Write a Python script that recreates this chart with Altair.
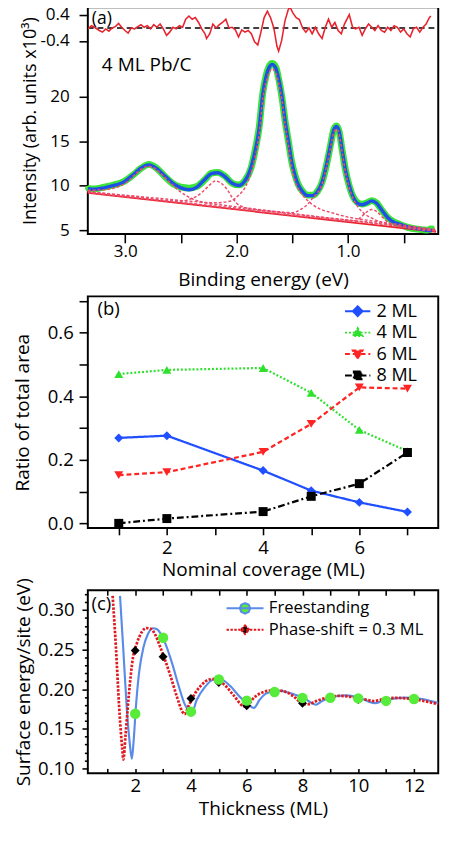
import altair as alt
import pandas as pd

FONT = "Open Sans"

# ---------------- panel (a): spectrum of 4 ML Pb/C ----------------
E_FIT = [3.336, 3.276, 3.190, 3.103, 3.017, 2.931, 2.859, 2.787, 2.716, 2.644,
         2.572, 2.500, 2.428, 2.356, 2.284, 2.227, 2.170, 2.112, 2.040, 1.983,
         1.925, 1.868, 1.832, 1.798, 1.765, 1.736, 1.707, 1.681, 1.649, 1.621,
         1.593, 1.564, 1.534, 1.506, 1.477, 1.448, 1.405, 1.362, 1.319, 1.276,
         1.233, 1.190, 1.155, 1.127, 1.103, 1.080, 1.052, 1.024, 0.989, 0.955,
         0.917, 0.874, 0.831, 0.788, 0.745, 0.701, 0.645, 0.587, 0.529, 0.463,
         0.377, 0.290, 0.245]
I_FIT = [9.67, 9.61, 9.78, 10.04, 10.39, 11.22, 12.00, 12.35, 11.92, 11.10,
         10.28, 9.78, 9.57, 9.86, 10.75, 11.36, 11.46, 11.10, 10.28, 10.04,
         10.57, 12.18, 14.00, 16.40, 20.30, 22.20, 23.30, 23.60, 23.20, 21.90,
         20.00, 17.20, 14.90, 12.70, 11.20, 10.15, 9.30, 8.90, 8.90, 9.30,
         10.39, 12.53, 14.68, 16.29, 16.64, 16.10, 13.96, 11.82, 10.04, 8.78,
         8.07, 7.89, 8.07, 8.32, 8.07, 7.36, 6.46, 5.92, 5.68, 5.39,
         5.21, 5.03, 5.00]
I_DATA = [9.72, 9.66, 9.85, 10.10, 10.45, 11.20, 11.95, 12.40, 11.95, 11.05,
          10.25, 9.85, 9.75, 9.95, 10.70, 11.40, 11.50, 11.15, 10.30, 10.10,
          10.60, 12.10, 14.10, 16.50, 20.40, 22.30, 23.40, 23.70, 23.30, 21.90,
          19.90, 17.20, 14.90, 12.75, 11.25, 10.20, 9.35, 8.95, 8.95, 9.35,
          10.40, 12.50, 14.70, 16.35, 16.70, 16.10, 13.95, 11.85, 10.00, 8.80,
          8.15, 7.95, 8.10, 8.35, 8.10, 7.35, 6.45, 5.95, 5.65, 5.35,
          5.15, 5.05, 5.25]
E_BG = [3.336, 0.21]
I_BG = [9.21, 4.84]

C1_E = [3.336, 3.2, 3.1, 3.0, 2.9, 2.84, 2.79, 2.74, 2.7, 2.6, 2.5, 2.4, 2.3, 2.1, 1.9, 1.6, 1.2, 0.8, 0.21]
C1_I = [9.5, 9.55, 9.75, 10.3, 11.4, 12.0, 12.2, 12.0, 11.6, 10.4, 9.3, 8.55, 8.15, 7.8, 7.5, 7.05, 6.45, 5.9, 5.0]
C2_E = [3.336, 2.8, 2.6, 2.5, 2.41, 2.35, 2.3, 2.25, 2.19, 2.13, 2.08, 2.04, 2.0, 1.92, 1.8, 1.6, 1.3, 1.0, 0.6, 0.21]
C2_I = [9.33, 8.6, 8.32, 8.3, 8.55, 8.9, 9.4, 10.0, 10.55, 10.2, 9.5, 8.7, 8.05, 7.55, 7.3, 7.0, 6.55, 6.15, 5.55, 5.0]
C3_E = [3.336, 3.0, 2.7, 2.4, 2.2, 2.05, 1.983, 1.925, 1.868, 1.832,
        1.798, 1.765, 1.736, 1.707, 1.684, 1.649, 1.621, 1.593, 1.564, 1.534,
        1.506, 1.477, 1.448, 1.405, 1.362, 1.32, 1.25, 1.15, 1.0, 0.8, 0.5, 0.21]
C3_I = [9.35, 8.95, 8.6, 8.25, 8.1, 8.3, 8.95, 9.8, 11.6, 13.4,
        15.8, 19.7, 21.6, 22.7, 23.1, 22.7, 21.4, 19.6, 16.8, 14.4,
        12.2, 10.6, 9.7, 8.9, 8.35, 7.9, 7.4, 7.0, 6.5, 6.1, 5.6, 5.1]
C4_E = [3.336, 2.5, 2.0, 1.7, 1.5, 1.42, 1.362, 1.319, 1.276, 1.233,
        1.19, 1.155, 1.127, 1.103, 1.08, 1.052, 1.024, 0.989, 0.955, 0.917,
        0.874, 0.79, 0.645, 0.45, 0.21]
C4_I = [9.3, 8.15, 7.5, 7.15, 7.0, 7.4, 7.95, 8.6, 9.2, 10.2,
        12.3, 14.4, 16.0, 16.35, 15.8, 13.7, 11.6, 9.8, 8.6, 7.75,
        7.1, 6.4, 5.75, 5.35, 5.0]
C5_E = [3.336, 2.0, 1.2, 1.0, 0.93, 0.874, 0.83, 0.787, 0.745, 0.70, 0.645, 0.587, 0.5, 0.21]
C5_I = [9.25, 7.4, 6.3, 6.05, 6.1, 6.6, 7.1, 7.36, 7.15, 6.6, 5.95, 5.6, 5.35, 4.95]

E_RES = [3.333, 3.304, 3.276, 3.233, 3.204, 3.175, 3.147, 3.118, 3.089, 3.060,
         3.032, 3.003, 2.974, 2.946, 2.916, 2.888, 2.859, 2.830, 2.802, 2.773,
         2.744, 2.716, 2.687, 2.658, 2.629, 2.601, 2.571, 2.543, 2.515, 2.485,
         2.457, 2.428, 2.399, 2.371, 2.342, 2.313, 2.284, 2.270, 2.241, 2.213,
         2.184, 2.155, 2.127, 2.097, 2.069, 2.040, 2.011, 1.983, 1.954, 1.925,
         1.896, 1.868, 1.839, 1.810, 1.782, 1.753, 1.724, 1.696, 1.666, 1.638,
         1.623, 1.595, 1.566, 1.537, 1.523, 1.494, 1.465, 1.437, 1.408, 1.379,
         1.351, 1.322, 1.293, 1.264, 1.233, 1.204, 1.175, 1.147, 1.118, 1.089,
         1.060, 1.032, 0.989, 0.959, 0.931, 0.902, 0.873, 0.845, 0.816, 0.787,
         0.759, 0.730, 0.701, 0.672, 0.644, 0.615, 0.586, 0.557, 0.528, 0.500,
         0.471, 0.442, 0.414, 0.385, 0.356, 0.327, 0.299, 0.270, 0.256]
R_RES = [-0.03, 0.07, 0.02, -0.08, -0.13, -0.03, -0.10, 0.00, 0.04, 0.14,
         0.02, -0.08, -0.16, 0.00, -0.03, 0.04, 0.10, 0.02, 0.07, -0.03,
         0.10, 0.02, 0.12, -0.03, -0.23, -0.13, 0.02, -0.03, 0.07, 0.02,
         0.27, 0.37, 0.27, 0.32, 0.17, -0.03, -0.18, -0.33, -0.18, 0.12,
         0.00, 0.10, 0.17, 0.27, 0.00, 0.02, -0.06, -0.28, -0.06, -0.13,
         -0.08, -0.18, -0.43, -0.53, -0.13, 0.32, 0.52, 0.32, 0.00, -0.57,
         -0.72, -0.38, 0.22, 0.56, 0.66, 0.46, 0.32, 0.26, 0.00, -0.13,
         0.00, -0.18, 0.02, -0.18, -0.33, 0.02, 0.27, 0.02, 0.17, -0.08,
         -0.18, 0.12, 0.41, 0.02, -0.03, 0.02, -0.23, -0.03, 0.12, 0.02,
         -0.08, 0.07, -0.08, -0.13, 0.02, -0.08, 0.07, 0.02, -0.13, -0.03,
         -0.18, -0.28, -0.03, 0.02, -0.13, 0.02, 0.12, 0.32, 0.37]
E_ZERO = [3.336, 0.19]
R_ZERO = [0.0, 0.0]

# ---------------- panel (b): ratio of total area ----------------
SER_B = ["2 ML", "4 ML", "6 ML", "8 ML"]
X_B = [1, 2, 4, 5, 6, 7]
ML2 = [0.269, 0.276, 0.166, 0.103, 0.066, 0.036]
ML4 = [0.470, 0.483, 0.489, 0.411, 0.294, 0.227]
ML6 = [0.152, 0.161, 0.225, 0.313, 0.428, 0.424]
ML8 = [0.000, 0.015, 0.037, 0.085, 0.125, 0.223]

# ---------------- panel (c): surface energy ----------------
SER_C = ["Freestanding", "Phase-shift = 0.3 ML"]
T_FREE = [1.455, 1.57, 1.69, 1.80, 1.88, 1.94, 2.03, 2.15, 2.29, 2.46,
          2.64, 2.77, 2.92, 3.10, 3.33, 3.56, 3.79, 3.97, 4.05, 4.20,
          4.49, 4.83, 5.07, 5.41, 5.76, 6.00, 6.26, 6.45, 6.69, 7.15,
          7.61, 8.08, 8.30, 8.48, 8.70, 8.95, 9.55, 10.16, 10.40, 10.62,
          10.85, 11.10, 11.66, 12.24, 12.60, 12.88]
E_FREE = [0.318, 0.252, 0.180, 0.133, 0.112, 0.133, 0.180, 0.224, 0.252, 0.270,
          0.277, 0.276, 0.270, 0.256, 0.232, 0.204, 0.180, 0.1725, 0.172, 0.186,
          0.2024, 0.2123, 0.2123, 0.204, 0.190, 0.183, 0.1764, 0.186, 0.1944, 0.1983,
          0.1944, 0.1884, 0.183, 0.1804, 0.185, 0.189, 0.1922, 0.1876, 0.184, 0.1824,
          0.185, 0.1870, 0.1893, 0.1880, 0.185, 0.1824]
T_PHASE = [1.19, 1.31, 1.42, 1.535, 1.575, 1.65, 1.77, 1.92, 2.06, 2.23,
           2.40, 2.58, 2.73, 2.89, 3.04, 3.27, 3.50, 3.68, 3.77, 3.91,
           4.14, 4.37, 4.66, 4.89, 5.18, 5.53, 5.88, 5.97, 6.10, 6.28,
           6.86, 7.10, 7.44, 7.75, 7.96, 8.19, 8.50, 8.94, 9.30, 9.60,
           10.00, 10.33, 10.56, 10.90, 11.375, 11.70, 12.07, 12.50, 12.88]
E_PHASE = [0.318, 0.252, 0.180, 0.1246, 0.111, 0.1406, 0.1923, 0.240, 0.258, 0.272,
           0.2773, 0.276, 0.268, 0.254, 0.240, 0.2163, 0.190, 0.1725, 0.1684, 0.1785,
           0.1944, 0.205, 0.2123, 0.213, 0.2063, 0.1923, 0.1785, 0.178, 0.182, 0.190,
           0.1983, 0.1985, 0.196, 0.189, 0.1824, 0.181, 0.185, 0.190, 0.1915, 0.191,
           0.1885, 0.1864, 0.185, 0.1875, 0.189, 0.1885, 0.187, 0.184, 0.181]
T_PTS = [2, 3, 4, 5, 6, 7, 8, 9, 10, 11, 12]
E_FREE_PTS = [0.169, 0.265, 0.1716, 0.2123, 0.1856, 0.1964, 0.189, 0.1892, 0.1884, 0.1852, 0.1876]
E_PHASE_PTS = [0.249, 0.241, 0.1884, 0.2084, 0.1792, 0.197, 0.1824, 0.190, 0.187, 0.185, 0.188]

# ---------------- styles / layout ----------------
GREEN_A, BLUE_A, RED_A, PINK_A = "#3ce43c", "#1f50e6", "#e8232d", "#ee4a6a"
COL_B = ["#1f4fff", "#2fe02f", "#ff2424", "#000000"]
DASH_B = [[1, 0], [2, 2], [5, 3], [7, 3, 2, 3]]
SHP_B = ["diamond", "triangle-up", "triangle-down", "square"]
BLUE_C, RED_C, GREEN_C = "#5a8be8", "#e0191e", "#58ec3a"
W = 360
HA, HB, HC, GAP = 233, 238, 188, 64


def ternary(names, vals):
    s = ""
    for n, v in zip(names[:-1], vals[:-1]):
        s += f"datum.value === '{n}' ? {v} : "
    return s + vals[-1]


# ================= panel (a) =================
df_fit = pd.DataFrame({"E": E_FIT, "I": I_FIT})
df_dat = pd.DataFrame({"E": E_FIT, "I": I_DATA})
df_bg = pd.DataFrame({"E": E_BG, "I": I_BG})
df_comp = pd.concat([pd.DataFrame({"E": e, "I": i, "c": n}) for n, e, i in [
    ("c1", C1_E, C1_I), ("c2", C2_E, C2_I), ("c3", C3_E, C3_I),
    ("c4", C4_E, C4_I), ("c5", C5_E, C5_I)]], ignore_index=True)
df_res = pd.DataFrame({"E": E_RES, "R": R_RES})
df_zero = pd.DataFrame({"E": E_ZERO, "R": R_ZERO})
df_ann_a1 = pd.DataFrame({"E": [3.30], "I": [28.7], "txt": ["(a)"]})
df_ann_a2 = pd.DataFrame({"E": [3.21], "I": [23.57], "txt": ["4 ML Pb/C"]})

xa = alt.X("E:Q", scale=alt.Scale(domain=[0.19, 3.336], reverse=True, nice=False, zero=False),
           axis=alt.Axis(values=[3.0, 2.5, 2.0, 1.5, 1.0, 0.5],
                         labelExpr="datum.value % 1 === 0 ? format(datum.value, '.1f') : ''",
                         title="Binding energy (eV)", tickSize=9, labelPadding=0,
                         titlePadding=11, labelFontSize=17.5))
ya = alt.Y("I:Q", scale=alt.Scale(domain=[4.6, 30.0], nice=False, zero=False),
           axis=alt.Axis(values=[5, 10, 15, 20], title="Intensity (arb. units x10³)",
                         titleFontSize=18.5, tickSize=9, labelPadding=10, titlePadding=11,
                         labelFontSize=17.5))
yr = alt.Y("R:Q", scale=alt.Scale(domain=[-0.4, 0.4], range=[34.5, 8], nice=False, zero=False),
           axis=alt.Axis(values=[-0.4, 0.4], orient="left", title=None,
                         labelExpr="datum.value < 0 ? '-' + format(-datum.value, '.1f') : format(datum.value, '.1f')",
                         tickSize=9, labelPadding=10, labelFontSize=17.5))

main_a = alt.layer(
    alt.Chart(df_dat).mark_line(color=GREEN_A, strokeWidth=7, interpolate="monotone").encode(x=xa, y=ya),
    alt.Chart(df_dat).mark_circle(color=GREEN_A, size=30, opacity=1).encode(x=xa, y=ya),
    alt.Chart(df_bg).mark_line(color=RED_A, strokeWidth=1.8).encode(x=xa, y=ya),
    alt.Chart(df_fit).mark_line(color=BLUE_A, strokeWidth=3.5, interpolate="monotone").encode(x=xa, y=ya),
    alt.Chart(df_comp).mark_line(color=PINK_A, strokeWidth=1.5, strokeDash=[3, 2],
                                 interpolate="monotone").encode(x=xa, y=ya, detail="c:N"),
    alt.Chart(df_ann_a1).mark_text(align="left", baseline="middle", fontSize=18, font=FONT,
                                   color="black").encode(x=xa, y=ya, text="txt:N"),
    alt.Chart(df_ann_a2).mark_text(align="left", baseline="middle", fontSize=19.5, font=FONT,
                                   color="black").encode(x=xa, y=ya, text="txt:N"),
)
res_a = alt.layer(
    alt.Chart(df_zero).mark_line(color="black", strokeWidth=1.5, strokeDash=[6, 4]).encode(x=xa, y=yr),
    alt.Chart(df_res).mark_line(color=RED_A, strokeWidth=1.6, clip=True).encode(x=xa, y=yr),
)
pa = alt.layer(main_a, res_a).resolve_scale(y="independent").properties(width=W, height=HA)

# ================= panel (b) =================
df_b = pd.DataFrame({
    "x": X_B * 4,
    "v": ML2 + ML4 + ML6 + ML8,
    "s": [SER_B[0]] * 6 + [SER_B[1]] * 6 + [SER_B[2]] * 6 + [SER_B[3]] * 6,
})
df_b["s_pt"] = df_b["s"]
df_b["s_dash"] = df_b["s"]
df_ann_b = pd.DataFrame({"x": [0.56], "v": [0.673], "txt": ["(b)"]})

# legend symbols: a line segment with the series' marker in its middle
SYM_B = ["'M-1,0H5.5M2.25,-1.25L3.5,0L2.25,1.25L1,0Z'",
         "'M-1,0H5.5M2.25,-1.15L3.5,0.9L1,0.9Z'",
         "'M-1,0H5.5M2.25,1.15L3.5,-0.9L1,-0.9Z'",
         "'M-1,0H5.5M1.25,-1H3.25V1H1.25Z'"]
legend_b = alt.Legend(
    title=None, orient="none", legendX=259, legendY=6,
    labelFontSize=18.5, symbolSize=64, rowPadding=3, labelOffset=19, padding=0,
    symbolStrokeWidth=2,
    symbolType=alt.ExprRef(expr=ternary(SER_B, SYM_B)),
    symbolDash=alt.ExprRef(expr=ternary(SER_B, [str(d) for d in DASH_B])),
    symbolFillColor=alt.ExprRef(expr=ternary(SER_B, [f"'{c}'" for c in COL_B])),
)

xb = alt.X("x:Q", scale=alt.Scale(domain=[0.357, 7.64], nice=False, zero=False),
           axis=alt.Axis(values=[1, 2, 3, 4, 5, 6, 7],
                         labelExpr="datum.value % 2 === 0 ? datum.label : ''",
                         title="Nominal coverage (ML)", tickSize=7, labelPadding=4,
                         titlePadding=4, labelFontSize=19))
yb = alt.Y("v:Q", scale=alt.Scale(domain=[-0.0147, 0.7145], nice=False, zero=False),
           axis=alt.Axis(values=[0.0, 0.1, 0.2, 0.3, 0.4, 0.5, 0.6, 0.7],
                         labelExpr="abs(datum.value*5 - round(datum.value*5)) < 0.01 ? format(datum.value, '.1f') : ''",
                         title="Ratio of total area", tickSize=9, labelPadding=6,
                         titlePadding=15, labelFontSize=19))
sc_col_b = alt.Scale(domain=SER_B, range=COL_B)

pb = alt.layer(
    alt.Chart(df_b).mark_line(strokeWidth=2.3).encode(
        x=xb, y=yb, color=alt.Color("s:N", scale=sc_col_b, legend=legend_b),
        strokeDash=alt.StrokeDash("s_dash:N", scale=alt.Scale(domain=SER_B, range=DASH_B), legend=None)),
    alt.Chart(df_b).mark_point(filled=True, size=85, opacity=1).encode(
        x=xb, y=yb, color=alt.Color("s_pt:N", scale=sc_col_b, legend=None),
        shape=alt.Shape("s_pt:N", scale=alt.Scale(domain=SER_B, range=SHP_B), legend=None)),
    alt.Chart(df_ann_b).mark_text(align="left", baseline="middle", fontSize=19, font=FONT,
                                  color="black").encode(x=xb, y=yb, text="txt:N"),
).properties(width=W, height=HB)

# ================= panel (c) =================
df_free = pd.DataFrame({"t": T_FREE, "e": E_FREE, "s": SER_C[0]})
df_phase = pd.DataFrame({"t": T_PHASE, "e": E_PHASE, "s": SER_C[1]})
df_free_pts = pd.DataFrame({"t": T_PTS, "e": E_FREE_PTS})
df_phase_pts = pd.DataFrame({"t": T_PTS, "e": E_PHASE_PTS})
df_ann_c = pd.DataFrame({"t": [0.43], "e": [0.307], "txt": ["(c)"]})

sc_xc = alt.Scale(domain=[0.30, 12.87], nice=False, zero=False)
XC_TICKS = list(range(1, 13))
xc = alt.X("t:Q", scale=sc_xc,
           axis=alt.Axis(values=XC_TICKS, orient="bottom", offset=-5, tickSize=5,
                         labelExpr="datum.value % 2 === 0 ? datum.label : ''",
                         labelPadding=3.5, title="Thickness (ML)", titlePadding=5,
                         labelFontSize=19))
xc_top = alt.X("t:Q", scale=sc_xc,
               axis=alt.Axis(values=XC_TICKS, orient="top", offset=-5, tickSize=5,
                             labels=False, title=None))
xc_none = alt.X("t:Q", scale=sc_xc, axis=None)
YC_TICKS = [0.10, 0.11, 0.12, 0.13, 0.14, 0.15, 0.16, 0.17, 0.18, 0.19, 0.20, 0.21,
            0.22, 0.23, 0.24, 0.25, 0.26, 0.27, 0.28, 0.29, 0.30, 0.31, 0.32]
major_test = "abs(datum.value*20 - round(datum.value*20)) < 0.01"
yc = alt.Y("e:Q", scale=alt.Scale(domain=[0.0937, 0.325], nice=False, zero=False),
           axis=alt.Axis(values=YC_TICKS,
                         labelExpr=major_test + " ? format(datum.value, '.2f') : ''",
                         tickSize={"condition": {"test": major_test, "value": 6}, "value": 3.5},
                         labelPadding=8, title="Surface energy/site (eV)", titlePadding=4,
                         labelFontSize=19))

SYM_C = ["'M-1,0H8.5M2.4,0L2.8,-0.95L3.75,-1.35L4.7,-0.95L5.1,0L4.7,0.95L3.75,1.35L2.8,0.95Z'",
         "'M-1,0H8.5M3.75,-1.125L4.875,0L3.75,1.125L2.625,0Z'"]
legend_c = alt.Legend(
    title=None, orient="none", legendX=138, legendY=10,
    labelFontSize=17, symbolSize=64, rowPadding=3, labelOffset=31, padding=0,
    symbolStrokeWidth=2, labelLimit=260,
    symbolType=alt.ExprRef(expr=ternary(SER_C, SYM_C)),
    symbolDash=alt.ExprRef(expr=ternary(SER_C, ["[1,0]", "[2.5,1.5]"])),
    symbolFillColor=alt.ExprRef(expr=ternary(SER_C, [f"'{GREEN_C}'", "'#000000'"])),
)
stroke_c = alt.Stroke("s:N", scale=alt.Scale(domain=SER_C, range=[BLUE_C, RED_C]), legend=legend_c)

pc = alt.layer(
    alt.Chart(df_free).mark_line(strokeWidth=2.2, interpolate="monotone", clip=True).encode(
        x=xc, y=yc, stroke=stroke_c),
    alt.Chart(df_phase).mark_line(strokeWidth=2.8, strokeDash=[2.5, 1.5], interpolate="monotone",
                                  clip=True).encode(x=xc_top, y=yc, stroke=stroke_c),
    alt.Chart(df_phase_pts).mark_point(shape="diamond", filled=True, size=85, color="black",
                                       opacity=1).encode(x=xc_none, y=yc),
    alt.Chart(df_free_pts).mark_point(shape="circle", filled=True, size=115, color=GREEN_C,
                                      opacity=1).encode(x=xc_none, y=yc),
    alt.Chart(df_ann_c).mark_text(align="left", baseline="middle", fontSize=19, font=FONT,
                                  color="black").encode(x=xc_none, y=yc, text="txt:N"),
).resolve_axis(x="independent").properties(width=W, height=HC)

chart = alt.vconcat(pa, pb, pc, spacing=GAP, bounds="flush").resolve_legend(
    color="independent", stroke="independent"
).properties(
    padding={"left": 4, "top": -14, "right": 0, "bottom": 0},
    background="white",
).configure_view(
    stroke="black", strokeWidth=2
).configure_axis(
    labelFont=FONT, titleFont=FONT, titleFontWeight="normal", titleFontSize=19.5,
    labelColor="black", titleColor="black", tickColor="black", tickWidth=1.6,
    domain=False, grid=False
).configure_legend(
    labelFont=FONT, labelColor="black"
)

chart.save("out.html", embed_options={"renderer": "svg", "actions": False})
